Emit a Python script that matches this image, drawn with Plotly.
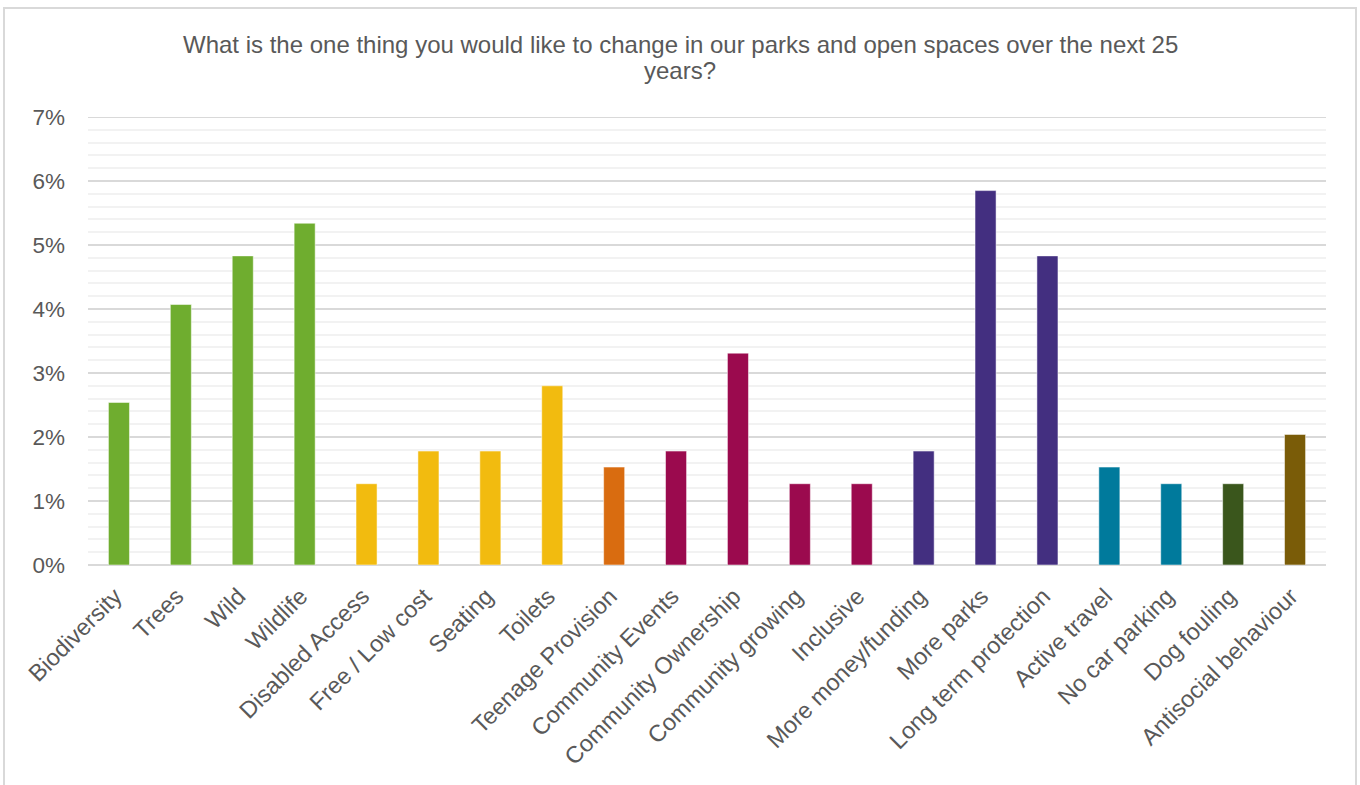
import plotly.graph_objects as go

# Survey answers: share of respondents (%) per theme
categories = [
    "Biodiversity", "Trees", "Wild", "Wildlife", "Disabled Access",
    "Free / Low cost", "Seating", "Toilets", "Teenage Provision",
    "Community Events", "Community Ownership", "Community growing",
    "Inclusive", "More money/funding", "More parks", "Long term protection",
    "Active travel", "No car parking", "Dog fouling", "Antisocial behaviour",
]
shares = [
    2.54, 4.07, 4.83, 5.34, 1.27,
    1.78, 1.78, 2.80, 1.53,
    1.78, 3.31, 1.27,
    1.27, 1.78, 5.85, 4.83,
    1.53, 1.27, 1.27, 2.04,
]
# Colour per theme group
bar_colors = (
    ["#6FAD2F"] * 4
    + ["#F2BB0F"] * 4
    + ["#D96C10"]
    + ["#9B0A4E"] * 4
    + ["#432F80"] * 3
    + ["#007A9C"] * 2
    + ["#3A561C"]
    + ["#7A5C08"]
)
y_ticks = [0, 1, 2, 3, 4, 5, 6, 7]

title_lines = [
    "What is the one thing you would like to change in our parks and open spaces over the next 25",
    "years?",
]

FONT = "Liberation Sans, Arial, sans-serif"
GREY = "#595959"

fig = go.Figure(
    go.Bar(
        x=categories,
        y=shares,
        marker=dict(color=bar_colors, line=dict(color="rgba(255,255,255,0.5)", width=1)),
        hoverinfo="x+y",
    )
)

W, H = 1360, 785
L, R, T, B = 88, 34, 117, 220
pw, ph = W - L - R, H - T - B

def px_x(x):
    return (x - L) / pw

def px_y(y):
    return (H - B - y) / ph

# title, one annotation per line (centre of chart frame, tight line spacing)
title_ann = [
    dict(text=line, xref="paper", yref="paper",
         x=px_x(680), y=px_y(yc), xanchor="center", yanchor="middle",
         showarrow=False, font=dict(family=FONT, size=24, color=GREY))
    for line, yc in zip(title_lines, [45, 70])
]

fig.update_layout(
    width=W,
    height=H,
    margin=dict(l=L, r=R, t=T, b=B),
    paper_bgcolor="white",
    plot_bgcolor="white",
    bargap=0.66,
    showlegend=False,
    font=dict(family=FONT, color=GREY, size=19),
    shapes=[
        dict(type="rect", xref="paper", yref="paper",
             x0=px_x(4), x1=px_x(1356), y0=px_y(800), y1=px_y(8),
             line=dict(color="#D9D9D9", width=2), fillcolor="rgba(0,0,0,0)", layer="below"),
        # top major gridline at 7%
        dict(type="line", xref="paper", yref="y", x0=0, x1=1, y0=7, y1=7,
             line=dict(color="#D9D9D9", width=2), layer="below"),
    ],
    annotations=title_ann,
)

fig.update_xaxes(
    tickangle=-45,
    showgrid=False,
    showline=False,
    ticks="",
    ticklabelstandoff=12,
    ticklabelshift=-4,
    tickfont=dict(family=FONT, size=23.5, color=GREY),
)

fig.update_yaxes(
    range=[0, 7],
    tickvals=y_ticks,
    ticktext=[f"{v}%" for v in y_ticks],
    showgrid=True,
    gridcolor="#D9D9D9",
    gridwidth=2,
    zeroline=True,
    zerolinecolor="#D9D9D9",
    zerolinewidth=2,
    showline=False,
    ticks="",
    ticklabelstandoff=22,
    tickfont=dict(family=FONT, size=22.5, color=GREY),
    minor=dict(dtick=0.2, showgrid=True, gridcolor="#F2F2F2", gridwidth=2),
)

fig.write_html("out.html")
